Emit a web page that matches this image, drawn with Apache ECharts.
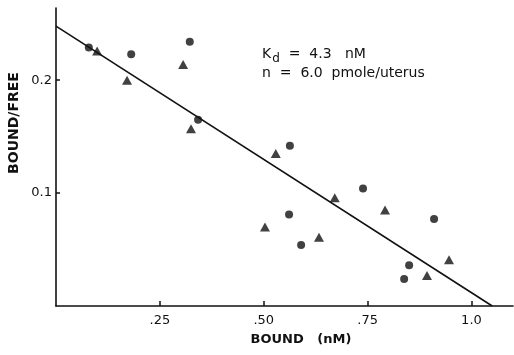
<html>
<head>
    <title></title>
    <meta charset="utf-8">
    <script src="https://cdn.jsdelivr.net/npm/echarts@6/dist/echarts.min.js" type="text/javascript"></script>
</head>
<body style="margin:0">
    <div id="main" style="width: 514px; height: 355px"></div>
    <script>
        // bound (nM), bound/free
        var circles = [
            [0.079, 0.229], [0.181, 0.223], [0.322, 0.234], [0.342, 0.165],
            [0.563, 0.142], [0.739, 0.104], [0.561, 0.081], [0.590, 0.054],
            [0.910, 0.077], [0.850, 0.036], [0.838, 0.024]
        ];
        var triangles = [
            [0.099, 0.226], [0.171, 0.200], [0.306, 0.214], [0.325, 0.157],
            [0.529, 0.135], [0.671, 0.096], [0.792, 0.085], [0.503, 0.070],
            [0.633, 0.061], [0.946, 0.041], [0.893, 0.027]
        ];
        var fitLine = [[0, 0.248], [1.05, 0]];
        var xTicks = [0.25, 0.5, 0.75, 1.0];
        var xTickLabels = ['.25', '.50', '.75', '1.0'];
        var yTicks = [0.1, 0.2];
        var yTickLabels = ['0.1', '0.2'];

        var font = 'DejaVu Sans';

        function pick(ticks, labels) {
            return function (v) {
                for (var i = 0; i < ticks.length; i++) if (Math.abs(ticks[i] - v) < 1e-6) return labels[i];
                return '';
            };
        }

        window.onload = function () {
            var myChart = echarts.init(document.getElementById('main'));
            var option = {
                animation: false,
                backgroundColor: '#fff',
                grid: { left: 56, right: 1, top: 8, bottom: 49 },
                xAxis: {
                    type: 'value', min: 0, max: 1.10,
                    splitLine: { show: false },
                    axisLine: { lineStyle: { color: '#111', width: 1.6 } },
                    axisTick: { inside: true, length: 5, customValues: xTicks, lineStyle: { color: '#111', width: 1.5 } },
                    axisLabel: {
                        customValues: xTicks, margin: 8, color: '#111', fontFamily: font, fontSize: 13, fontWeight: 500,
                        formatter: pick(xTicks, xTickLabels)
                    }
                },
                yAxis: {
                    type: 'value', min: 0, max: 0.264,
                    splitLine: { show: false },
                    axisLine: { lineStyle: { color: '#111', width: 1.6 } },
                    axisTick: { inside: true, length: 4, customValues: yTicks, lineStyle: { color: '#111', width: 1.5 } },
                    axisLabel: {
                        customValues: yTicks, margin: 4, color: '#111', fontFamily: font, fontSize: 13, fontWeight: 500,
                        formatter: pick(yTicks, yTickLabels)
                    }
                },
                graphic: [
                    {
                        type: 'text', x: 14, y: 123, rotation: Math.PI / 2,
                        style: { text: 'BOUND/FREE', fill: '#111', font: 'bold 14px ' + font, textAlign: 'center', textVerticalAlign: 'middle' }
                    },
                    {
                        type: 'text', x: 301, y: 340,
                        style: { text: 'BOUND   (nM)', fill: '#111', font: 'bold 13px ' + font, textAlign: 'center', textVerticalAlign: 'middle' }
                    },
                    {
                        type: 'text', x: 262, y: 54,
                        style: {
                            text: '{k|K}{d|d}{k|  =  4.3   nM}',
                            textVerticalAlign: 'middle',
                            rich: {
                                k: { fill: '#111', font: '14px ' + font },
                                d: { fill: '#111', font: '12px ' + font, padding: [9, 0, 0, 1] }
                            }
                        }
                    },
                    {
                        type: 'text', x: 262, y: 73,
                        style: { text: 'n  =  6.0  pmole/uterus', fill: '#111', font: '14px ' + font, textVerticalAlign: 'middle' }
                    }
                ],
                series: [
                    {
                        type: 'line', data: fitLine, symbol: 'none',
                        lineStyle: { color: '#111', width: 1.6 }, z: 1
                    },
                    {
                        type: 'scatter', data: circles, symbol: 'circle', symbolSize: 8,
                        itemStyle: { color: '#111' }
                    },
                    {
                        type: 'scatter', data: triangles, symbol: 'triangle', symbolSize: [10, 9],
                        itemStyle: { color: '#111' }
                    }
                ]
            };
            myChart.setOption(option);
        };
    </script>
</body>
</html>
